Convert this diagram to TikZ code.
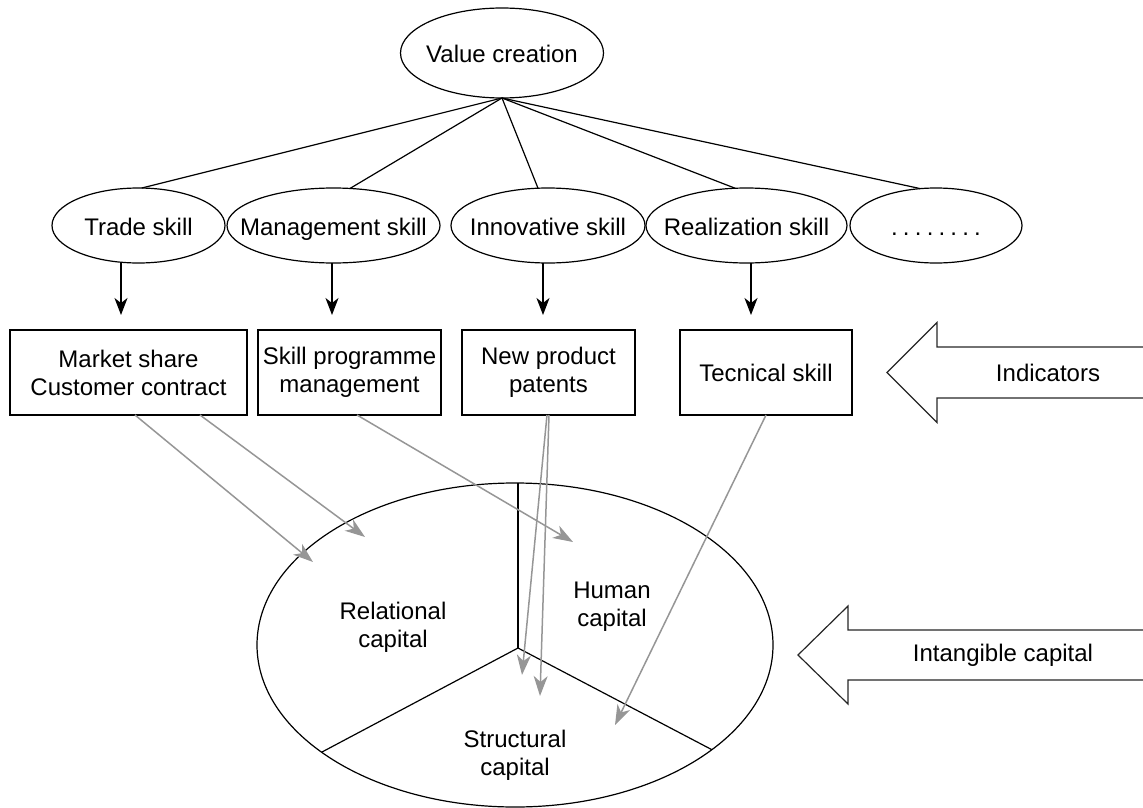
\documentclass[tikz,border=0pt]{standalone}
\usepackage{fontspec}
\setmainfont{Liberation Sans}
\usetikzlibrary{shapes.geometric,arrows.meta}
\definecolor{arrowgrey}{RGB}{150,150,150}
\begin{document}
\begin{tikzpicture}[x=1pt,y=-1pt,
  every node/.style={font=\fontsize{24}{28}\selectfont, text=black},
  every label/.style={font=\fontsize{24}{28}\selectfont, text=black, inner sep=0pt, text height=20pt, text depth=0pt},
  oval/.style={draw, ellipse, inner sep=0pt, outer sep=0pt, line width=1.2pt},
  ibox/.style={draw, rectangle, inner sep=0pt, outer sep=0pt, line width=1.2pt, align=center},
  blk/.style={line width=1.2pt},
  darrow/.style={line width=1.2pt, -{Stealth[length=17pt,width=13pt,inset=5pt]}},
  garrow/.style={line width=1.5pt, draw=arrowgrey, -{Stealth[length=20pt,width=14pt,inset=6pt]}},
  bigarrow/.style={line width=1.2pt, draw=black!85, line join=miter}
]
\useasboundingbox (0,0) rectangle (1143,808);

% top
\node[oval, minimum width=203, minimum height=90, label=center:Value creation] (vc) at (502,53) {};

% skills
\node[oval, minimum width=173, minimum height=75, label=center:Trade skill] (trade) at (138.5,225.5) {};
\node[oval, minimum width=213, minimum height=75, label=center:Management skill] (mgmt) at (333.5,225.5) {};
\node[oval, minimum width=194, minimum height=75, label=center:Innovative skill] (innov) at (548,225.5) {};
\node[oval, minimum width=201, minimum height=75, label=center:Realization skill] (real) at (746.5,225.5) {};
\node[oval, minimum width=172, minimum height=75, label={center:.\kern5.2pt.\kern5.2pt.\kern5.2pt.\kern5.2pt.\kern5.2pt.\kern5.2pt.\kern5.2pt.}] (dots) at (936,225.5) {};

\draw[blk] (vc.south) -- (trade.85);
\draw[blk] (vc.south) -- (mgmt.66);
\draw[blk] (vc.south) -- (innov.105);
\draw[blk] (vc.south) -- (real.107);
\draw[blk] (vc.south) -- (dots.113);

% indicator boxes
\node[ibox, minimum width=237, minimum height=85] (b1) at (128.5,372.5) {Market share\\Customer contract};
\node[ibox, minimum width=183, minimum height=85] (b2) at (349.5,372.5) {Skill programme\\management};
\node[ibox, minimum width=173, minimum height=85] (b3) at (548.5,372.5) {New product\\patents};
\node[ibox, minimum width=172, minimum height=85] (b4) at (766,372.5) {Tecnical skill};

\draw[darrow, shorten >=15pt] ([xshift=-17.5pt]trade.south) -- ([xshift=-17.5pt]trade.south |- b1.north);
\draw[darrow, shorten >=15pt] ([xshift=-1.5pt]mgmt.south) -- ([xshift=-1.5pt]mgmt.south |- b2.north);
\draw[darrow, shorten >=15pt] ([xshift=-5pt]innov.south) -- ([xshift=-5pt]innov.south |- b3.north);
\draw[darrow, shorten >=15pt] ([xshift=4.5pt]real.south) -- ([xshift=4.5pt]real.south |- b4.north);

% intangible capital ellipse
\node[oval, minimum width=516, minimum height=324] (cap) at (515,645) {};
\coordinate (cc) at (518,648);
\draw[blk] (cc) -- (cc |- cap.north);
\draw[blk] (cc) -- (cap.209);
\draw[blk] (cc) -- (cap.332);

\node[align=center] (rel) at (393,627) {Relational\\capital};
\node[align=center] (hum) at (612,607) {Human\\capital};
\node[align=center] (str) at (515,755) {Structural\\capital};

% grey arrows
\coordinate (ta) at (313,562);
\coordinate (tb) at (365,537);
\coordinate (tc) at (573,542);
\coordinate (td) at (522,675);
\coordinate (te) at (540,696);
\coordinate (tf) at (615,725);
\draw[garrow] ([xshift=6.5pt]b1.south) -- (ta);
\draw[garrow] ([xshift=71.5pt]b1.south) -- (tb);
\draw[garrow] ([xshift=7.5pt]b2.south) -- (tc);
\draw[garrow] ([xshift=-1.5pt]b3.south) -- (td);
\draw[garrow] ([xshift=0.5pt]b3.south) -- (te);
\draw[garrow] (b4.south) -- (tf);

% big open arrows
\draw[bigarrow] (1146,347) -- (937,347) -- (937,322.5) -- (887,372.5) -- (937,422.5) -- (937,398) -- (1146,398);
\node (ind) at (1048,372.5) {Indicators};
\draw[bigarrow] (1146,630) -- (848,630) -- (848,606) -- (798,655) -- (848,704) -- (848,680) -- (1146,680);
\node (intc) at (1003,655) {Intangible capital};
\end{tikzpicture}
\end{document}
